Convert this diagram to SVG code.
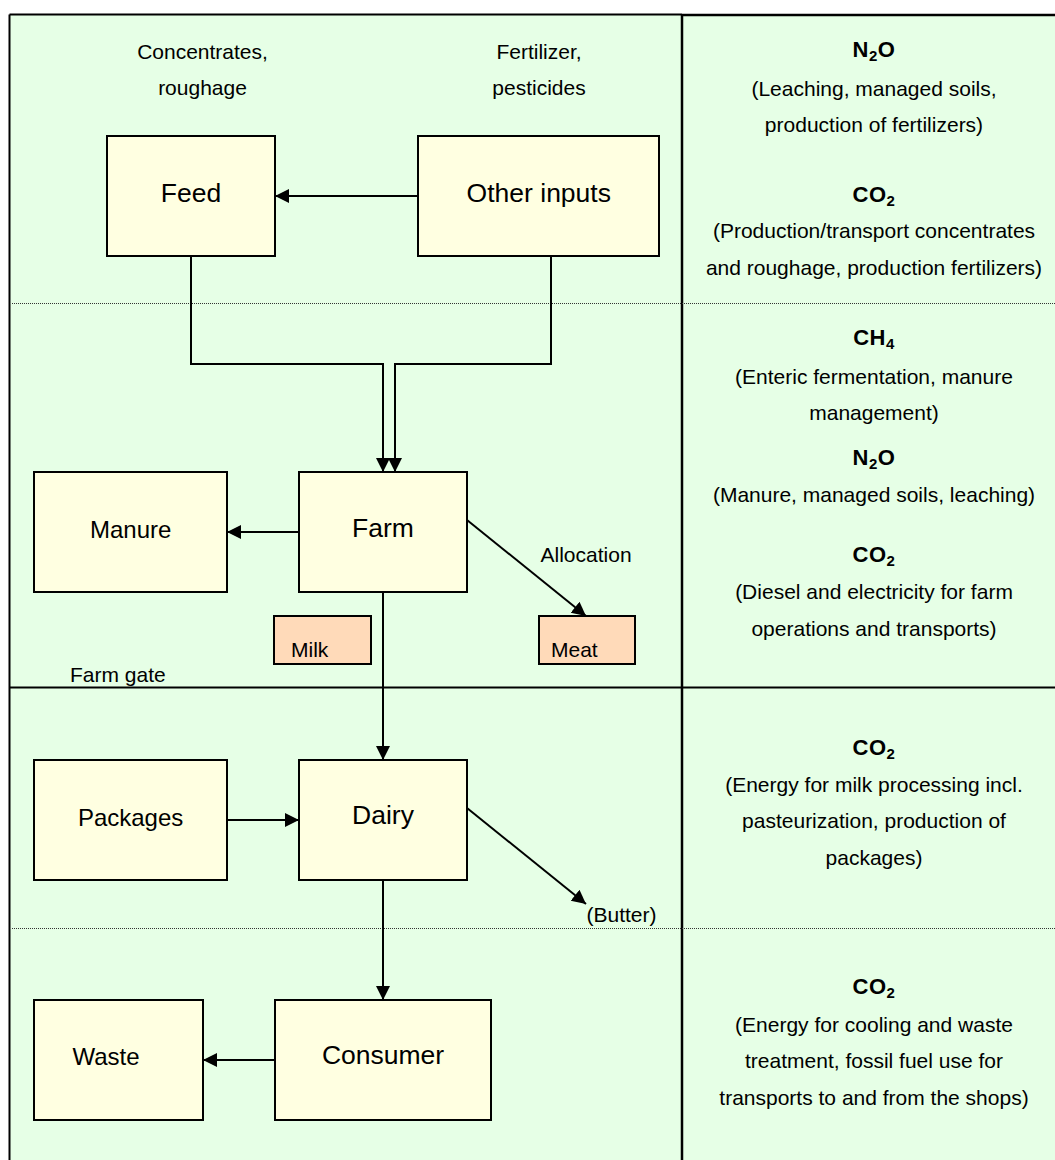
<svg xmlns="http://www.w3.org/2000/svg" width="1055" height="1160" viewBox="0 0 1055 1160">
<style>
.bg{fill:#E6FFE6;stroke:none}
.frame{fill:none;stroke:#000;stroke-width:2}
.frame2{fill:none;stroke:#000;stroke-width:2.5}
.dot{fill:none;stroke:#333;stroke-width:1;stroke-dasharray:1 1}
.box{fill:#FFFFE1;stroke:#000;stroke-width:2}
.prod{fill:#FFDAB9;stroke:#000;stroke-width:2}
text{font-family:"Liberation Sans",Arial,sans-serif;fill:#000}
.lbl{font-size:21px}
.big{font-size:26.5px;text-anchor:middle}
.mid{font-size:24px;text-anchor:middle}
.c{text-anchor:middle}
.r{font-size:21px;text-anchor:middle}
.h{font-size:22px;font-weight:bold;text-anchor:middle;letter-spacing:0.5px}
.sub{font-size:15px}
.edge{fill:none;stroke:#000;stroke-width:2;marker-end:url(#arr)}
</style>
<defs>
<marker id="arr" markerUnits="userSpaceOnUse" markerWidth="15" markerHeight="15" refX="14" refY="7" orient="auto">
<path d="M0,0 L14,7 L0,14 Z" fill="#000"/>
</marker>
</defs>
<rect x="0" y="0" width="1055" height="1160" fill="#fff"/>
<rect class="bg" x="10" y="15" width="1045" height="1145"/>
<g id="frame">
<line class="frame" x1="9.5" y1="14.5" x2="682" y2="14.5"/>
<line class="frame2" x1="682" y1="15" x2="1055" y2="15"/>
<line class="frame" x1="9.5" y1="14.5" x2="9.5" y2="1160"/>
<line class="frame2" x1="682" y1="14" x2="682" y2="1160"/>
<line class="frame" x1="10" y1="687.5" x2="1055" y2="687.5"/>
<line class="dot" x1="12" y1="303.5" x2="1055" y2="303.5"/>
<line class="dot" x1="12" y1="928.5" x2="1055" y2="928.5"/>
</g>
<g id="labels">
<text class="lbl c" x="202.5" y="59">Concentrates,</text>
<text class="lbl c" x="202.5" y="94.5">roughage</text>
<text class="lbl c" x="539" y="58.5">Fertilizer,</text>
<text class="lbl c" x="539" y="94.5">pesticides</text>
<text class="lbl" x="540.5" y="561.7">Allocation</text>
<text class="lbl" x="70" y="681.7">Farm gate</text>
<text class="lbl" x="586.5" y="921.7">(Butter)</text>
</g>
<g id="node-feed"><rect class="box" x="107" y="136" width="168" height="120"/><text class="big" x="191" y="201.7">Feed</text></g>
<g id="node-other"><rect class="box" x="418" y="136" width="241" height="120"/><text class="big" x="538.8" y="201.5">Other inputs</text></g>
<g id="node-manure"><rect class="box" x="34" y="472" width="193" height="120"/><text class="mid" x="130.7" y="538.3">Manure</text></g>
<g id="node-farm"><rect class="box" x="299" y="472" width="168" height="120"/><text class="big" x="383" y="536.7">Farm</text></g>
<g id="node-milk"><rect class="prod" x="274" y="616" width="97" height="48"/><text class="lbl" x="291" y="657.3">Milk</text></g>
<g id="node-meat"><rect class="prod" x="539" y="616" width="96" height="48"/><text class="lbl" x="551" y="657.3">Meat</text></g>
<g id="node-packages"><rect class="box" x="34" y="760" width="193" height="120"/><text class="mid" x="130.6" y="826">Packages</text></g>
<g id="node-dairy"><rect class="box" x="299" y="760" width="168" height="120"/><text class="big" x="383" y="824">Dairy</text></g>
<g id="node-waste"><rect class="box" x="34" y="1000" width="169" height="120"/><text class="mid" x="72.5" y="1065" style="text-anchor:start">Waste</text></g>
<g id="node-consumer"><rect class="box" x="275" y="1000" width="216" height="120"/><text class="big" x="383" y="1064">Consumer</text></g>
<g id="connectors">
<path class="edge" d="M418,196 H275"/>
<path class="edge" d="M191,256 V364 H383 V472"/>
<path class="edge" d="M551,256 V364 H395 V472"/>
<path class="edge" d="M299,532 H227"/>
<path class="edge" d="M467,520 L586,616"/>
<path class="edge" d="M383,592 V760"/>
<path class="edge" d="M227,820 H299"/>
<path class="edge" d="M467,808 L586,904"/>
<path class="edge" d="M383,880 V1000"/>
<path class="edge" d="M275,1060 H203"/>
</g>
<g id="emissions">
<text class="h" x="874" y="57.3">N<tspan class="sub" dy="4">2</tspan><tspan dy="-4">O</tspan></text>
<text class="r" x="874" y="95.7">(Leaching, managed soils,</text>
<text class="r" x="874" y="131.7">production of fertilizers)</text>
<text class="h" x="874" y="201.7">CO<tspan class="sub" dy="4">2</tspan></text>
<text class="r" x="874" y="238.3">(Production/transport concentrates</text>
<text class="r" x="874" y="275">and roughage, production fertilizers)</text>
<text class="h" x="874" y="345">CH<tspan class="sub" dy="4">4</tspan></text>
<text class="r" x="874" y="384">(Enteric fermentation, manure</text>
<text class="r" x="874" y="420">management)</text>
<text class="h" x="874" y="465">N<tspan class="sub" dy="4">2</tspan><tspan dy="-4">O</tspan></text>
<text class="r" x="874" y="502.3">(Manure, managed soils, leaching)</text>
<text class="h" x="874" y="561.7">CO<tspan class="sub" dy="4">2</tspan></text>
<text class="r" x="874" y="599.3">(Diesel and electricity for farm</text>
<text class="r" x="874" y="636">operations and transports)</text>
<text class="h" x="874" y="755">CO<tspan class="sub" dy="4">2</tspan></text>
<text class="r" x="874" y="791.7">(Energy for milk processing incl.</text>
<text class="r" x="874" y="828.3">pasteurization, production of</text>
<text class="r" x="874" y="865">packages)</text>
<text class="h" x="874" y="994.3">CO<tspan class="sub" dy="4">2</tspan></text>
<text class="r" x="874" y="1031.7">(Energy for cooling and waste</text>
<text class="r" x="874" y="1068.3">treatment, fossil fuel use for</text>
<text class="r" x="874" y="1105">transports to and from the shops)</text>
</g>
</svg>
